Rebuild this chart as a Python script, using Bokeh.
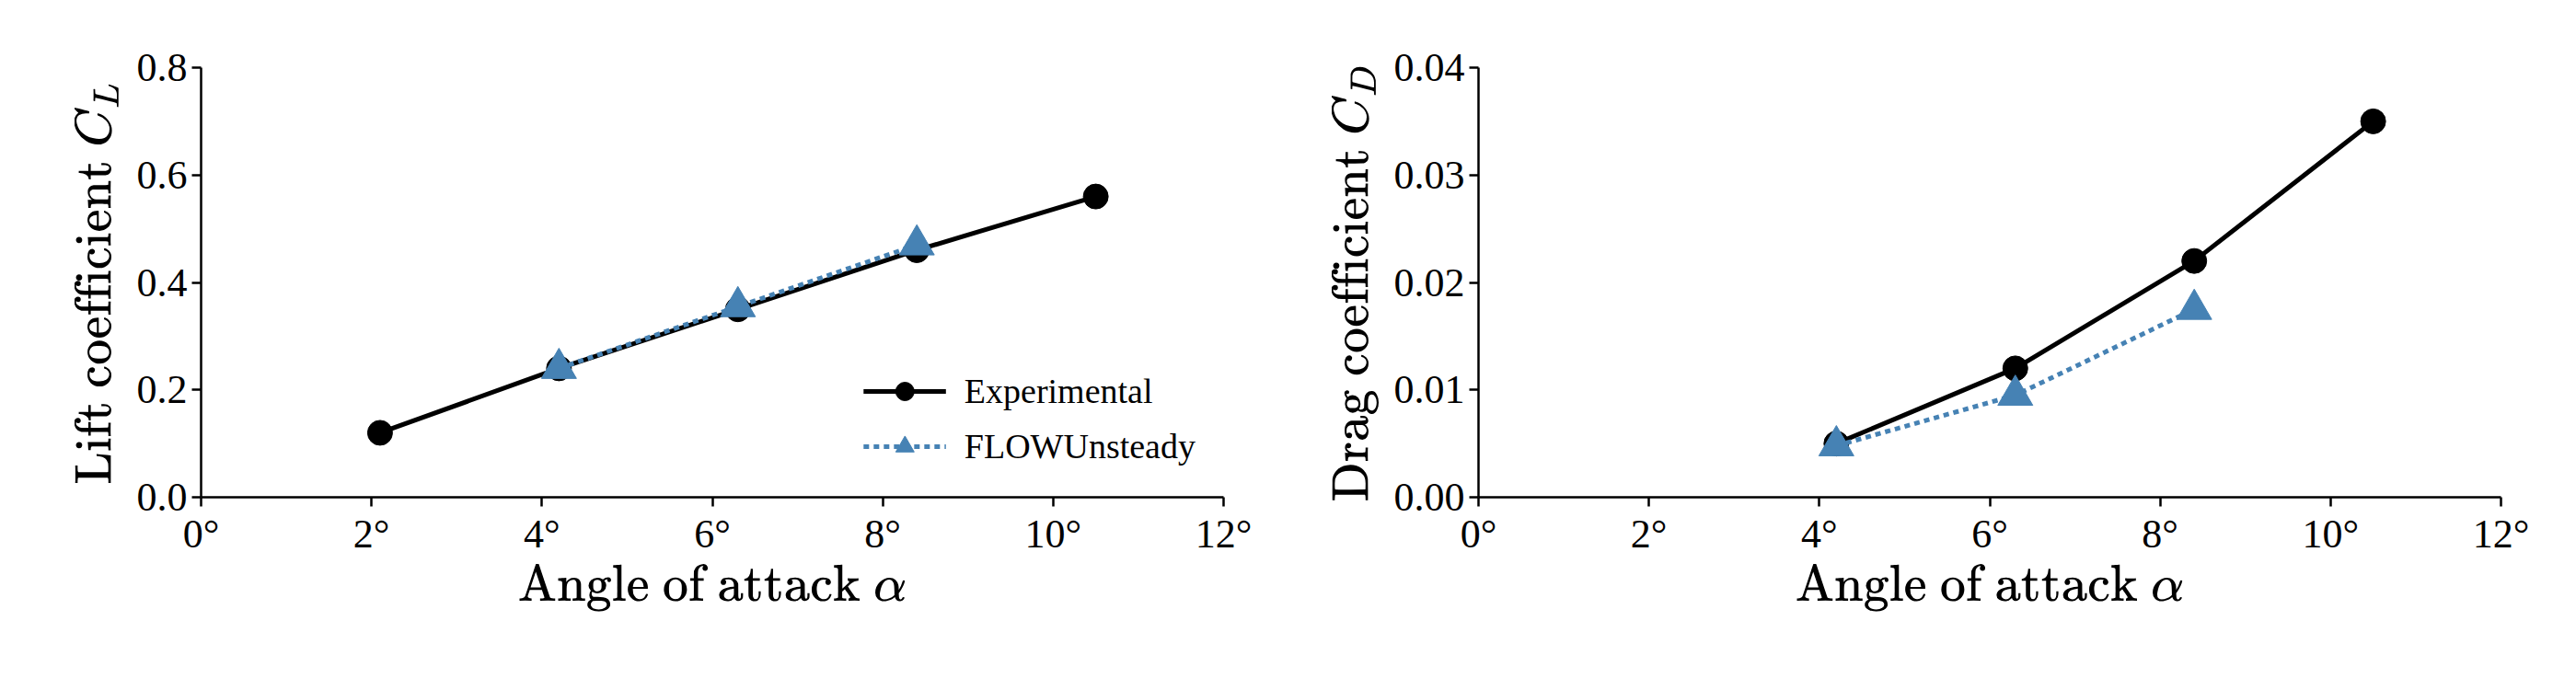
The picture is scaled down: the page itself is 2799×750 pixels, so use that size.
from bokeh.plotting import figure
from bokeh.layouts import row
from bokeh.models import Range1d, FixedTicker, Legend, LegendItem
from bokeh.embed import file_html
from bokeh.resources import INLINE

aoa_exp_cl = [2.1, 4.2, 6.3, 8.4, 10.5]
cl_exp = [0.12, 0.24, 0.35, 0.46, 0.56]
aoa_flow = [4.2, 6.3, 8.4]
cl_flow = [0.24, 0.355, 0.47]
aoa_exp_cd = [4.2, 6.3, 8.4, 10.5]
cd_exp = [0.005, 0.012, 0.022, 0.035]
cd_flow = [0.0048, 0.0095, 0.0175]
x_ticks = [0, 2, 4, 6, 8, 10, 12]
cl_ticks = [0.0, 0.2, 0.4, 0.6, 0.8]
cd_ticks = [0.0, 0.01, 0.02, 0.03, 0.04]

FONT = "Liberation Serif"
BLUE = "#4682b4"

def make(width, left, ylabel, yticks, yfmt, ymax):
    p = figure(width=width, height=734, output_backend="svg", toolbar_location=None,
               x_range=Range1d(0, 12), y_range=Range1d(0, ymax),
               min_border_left=left, min_border_right=width - left - 1111,
               min_border_top=73, min_border_bottom=194)
    p.outline_line_color = None
    p.grid.visible = False
    p.xaxis.ticker = FixedTicker(ticks=x_ticks)
    p.xaxis.major_label_overrides = {t: f"{t}°" for t in x_ticks}
    p.yaxis.ticker = FixedTicker(ticks=yticks)
    p.yaxis.major_label_overrides = {t: yfmt.format(t) for t in yticks}
    for ax in (p.xaxis, p.yaxis):
        ax.axis_line_width = 2.5
        ax.axis_line_color = "black"
        ax.major_tick_line_width = 2.5
        ax.major_tick_line_color = "black"
        ax.major_tick_out = 10
        ax.major_tick_in = 0
        ax.minor_tick_out = 0
        ax.minor_tick_in = 0
        ax.major_label_text_font = FONT
        ax.major_label_text_color = "black"
        ax.major_label_text_font_size = "44px"
        ax.axis_label_text_font = FONT
        ax.axis_label_text_color = "black"
        ax.axis_label_text_font_size = "54px"
        ax.axis_label_text_font_style = "normal"
    p.xaxis.axis_label = r"$$\text{Angle of attack }\alpha$$"
    p.yaxis.axis_label = ylabel
    return p

p1 = make(1392, 218, r"$$\text{Lift coefficient }C_L$$", cl_ticks, "{:.1f}", 0.8)
l1 = p1.line(aoa_exp_cl, cl_exp, line_color="black", line_width=5)
m1 = p1.scatter(aoa_exp_cl, cl_exp, size=27, color="black")
l2 = p1.line(aoa_flow, cl_flow, line_color=BLUE, line_width=5, line_dash="6 5")
m2 = p1.scatter(aoa_flow, cl_flow, size=38, marker="triangle", color=BLUE)
leg = Legend(items=[LegendItem(label="Experimental", renderers=[l1, m1]),
                    LegendItem(label="FLOWUnsteady", renderers=[l2, m2])],
             location="bottom_right", border_line_color=None, background_fill_alpha=0,
             label_text_font=FONT, label_text_font_size="38px", label_text_color="black",
             glyph_width=90, glyph_height=50, spacing=10, margin=30, label_standoff=20)
p1.add_layout(leg)

p2 = make(1391, 214, r"$$\text{Drag coefficient }C_D$$", cd_ticks, "{:.2f}", 0.04)
p2.line(aoa_exp_cd, cd_exp, line_color="black", line_width=5)
p2.scatter(aoa_exp_cd, cd_exp, size=27, color="black")
p2.line(aoa_flow, cd_flow, line_color=BLUE, line_width=5, line_dash="6 5")
p2.scatter(aoa_flow, cd_flow, size=38, marker="triangle", color=BLUE)

lay = row(p1, p2)
open("out.html", "w").write(file_html(lay, INLINE))
